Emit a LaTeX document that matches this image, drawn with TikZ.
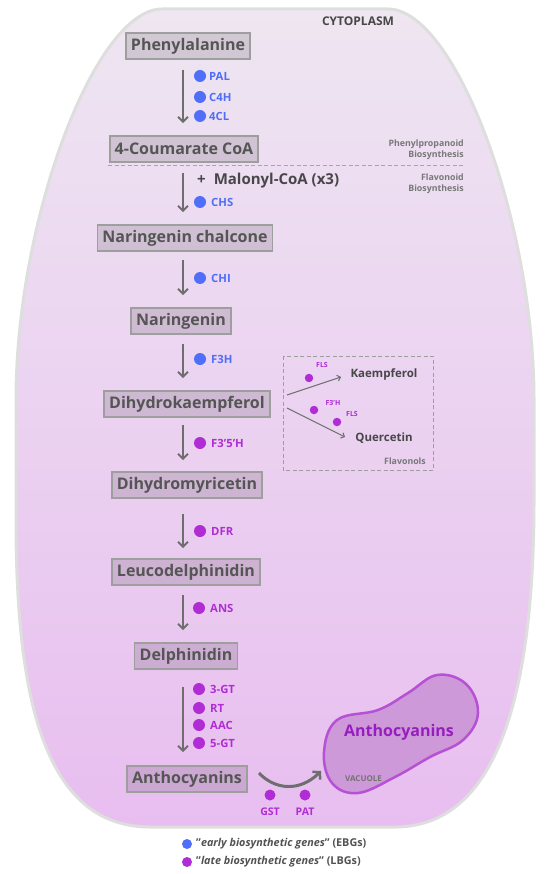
\documentclass[tikz,border=0pt]{standalone}
\usepackage{fontspec}
\setmainfont{Open Sans}
\usetikzlibrary{arrows.meta,calc}
\definecolor{ebg}{RGB}{80,110,247}
\definecolor{lbg}{RGB}{176,45,214}
\definecolor{boxtext}{RGB}{85,85,85}
\definecolor{arrowgrey}{RGB}{110,110,110}
\definecolor{celltop}{RGB}{238,230,241}
\definecolor{cellbot}{RGB}{232,190,240}
\definecolor{cellborder}{RGB}{222,222,222}
\definecolor{vacfill}{RGB}{205,153,217}
\definecolor{vacborder}{RGB}{182,80,212}
\definecolor{vactext}{RGB}{150,30,190}
\definecolor{smallgrey}{RGB}{120,120,120}
\tikzset{
  compound/.style={draw=black!38, line width=1.6pt, fill=black, fill opacity=0.12, text opacity=1,
    text=boxtext, font=\fontsize{16}{18}\selectfont\bfseries, inner xsep=5pt, inner ysep=0pt,
    minimum height=26pt},
  flow/.style={draw=arrowgrey, line width=2pt, -{Straight Barb[length=5pt,width=10pt,line width=2pt]}},
  gdot/.style={circle, inner sep=0pt, minimum size=12pt},
  glab/.style={anchor=west, font=\fontsize{11.3}{13}\selectfont\bfseries, inner sep=0pt},
  sdot/.style={circle, inner sep=0pt, minimum size=8.5pt, fill=lbg},
  slab/.style={font=\fontsize{7}{8}\selectfont\bfseries, text=lbg, inner sep=0pt},
  tiny/.style={font=\fontsize{8.8}{11}\selectfont\bfseries, text=smallgrey, align=right, inner sep=0pt},
  thin arrow/.style={draw=arrowgrey, line width=1pt, -{Straight Barb[length=3pt,width=6pt,line width=1pt]}}
}
\begin{document}
\begin{tikzpicture}[x=1pt,y=-1pt]
\useasboundingbox (0,0) rectangle (550,874);
% cell
\shade[top color=celltop, bottom color=cellbot, draw=cellborder, line width=3pt]
  (162,9) -- (388,9) .. controls (455,9) and (534,220) .. (534,400) -- (534,500)
  .. controls (534,700) and (495,827) .. (395,827) -- (150,827)
  .. controls (45,827) and (16,700) .. (16,520) -- (16,400)
  .. controls (16,220) and (95,9) .. (162,9) -- cycle;
\node[font=\fontsize{12}{14}\selectfont\bfseries, text=black!72, inner sep=0pt] (cyto) at (358,21) {CYTOPLASM};

% compounds
\coordinate (col) at (183,0);
\node[compound] (phe) at (188,46) {Phenylalanine};
\node[compound] (cou) at (184,149) {4-Coumarate CoA};
\node[compound] (nch) at (185,238) {Naringenin chalcone};
\node[compound] (nar) at (181,321) {Naringenin};
\node[compound] (dhk) at (187,404) {Dihydrokaempferol};
\node[compound] (dhm) at (187,485) {Dihydromyricetin};
\node[compound] (leu) at (186,572) {Leucodelphinidin};
\node[compound] (del) at (186,656) {Delphinidin};
\node[compound] (ant) at (187,779) {Anthocyanins};

% main arrows
\draw[flow, shorten <=10pt, shorten >=12pt] (phe.south -| col) -- (cou.north -| col);
\draw[flow, shorten <=10pt, shorten >=12pt] (cou.south -| col) -- (nch.north -| col);
\draw[flow, shorten <=8pt, shorten >=12pt] (nch.south -| col) -- (nar.north -| col);
\draw[flow, shorten <=9pt, shorten >=12pt] (nar.south -| col) -- (dhk.north -| col);
\draw[flow, shorten <=7pt, shorten >=11pt] (dhk.south -| col) -- (dhm.north -| col);
\draw[flow, shorten <=15pt, shorten >=10pt] (dhm.south -| col) -- (leu.north -| col);
\draw[flow, shorten <=9pt, shorten >=12pt] (leu.south -| col) -- (del.north -| col);
\draw[flow, shorten <=17pt, shorten >=13pt] (del.south -| col) -- (ant.north -| col);

% genes
\node[gdot, fill=ebg] (dpal) at (200,76) {};  \node[glab, text=ebg] (lpal) at (209,76) {PAL};
\node[gdot, fill=ebg] (dc4h) at (200,97) {};  \node[glab, text=ebg] (lc4h) at (209,97) {C4H};
\node[gdot, fill=ebg] (d4cl) at (200,116) {}; \node[glab, text=ebg] (l4cl) at (209,116) {4CL};
\node[anchor=west, inner sep=0pt, text=black!72, font=\fontsize{15}{17}\selectfont\bfseries] (mal) at (197,181) {+\hspace{8pt}Malonyl-CoA (x3)};
\node[gdot, fill=ebg] (dchs) at (200,202) {}; \node[glab, text=ebg] (lchs) at (211,202) {CHS};
\node[gdot, fill=ebg] (dchi) at (200,278) {}; \node[glab, text=ebg] (lchi) at (211,278) {CHI};
\node[gdot, fill=ebg] (df3h) at (200,359) {}; \node[glab, text=ebg] (lf3h) at (211,359) {F3H};
\node[gdot, fill=lbg] (df35) at (200,443) {}; \node[glab, text=lbg] (lf35) at (211,443) {F3'5'H};
\node[gdot, fill=lbg] (ddfr) at (200,531) {}; \node[glab, text=lbg] (ldfr) at (211,531) {DFR};
\node[gdot, fill=lbg] (dans) at (199,608) {}; \node[glab, text=lbg] (lans) at (210,608) {ANS};
\node[gdot, fill=lbg] (d3gt) at (199,689) {}; \node[glab, text=lbg] (l3gt) at (210,689) {3-GT};
\node[gdot, fill=lbg] (drt) at (199,708) {};  \node[glab, text=lbg] (lrt) at (210,708) {RT};
\node[gdot, fill=lbg] (daac) at (199,725) {}; \node[glab, text=lbg] (laac) at (210,725) {AAC};
\node[gdot, fill=lbg] (d5gt) at (199,743) {}; \node[glab, text=lbg] (l5gt) at (210,743) {5-GT};

% separator and section labels
\coordinate (sepl) at (108,165);
\coordinate (sepr) at (465,165);
\draw[draw=black!35, line width=0.8pt, dash pattern=on 4pt off 2.5pt] (sepl) -- (sepr);
\node[tiny, anchor=east] (ppb) at (464,149.5) {Phenylpropanoid\\Biosynthesis};
\node[tiny, anchor=east] (flb) at (464,183.5) {Flavonoid\\Biosynthesis};

% flavonols box
\draw[draw=black!38, line width=1pt, dash pattern=on 4pt off 2.5pt] (283,356) rectangle (433,470);
\node[tiny, anchor=east] (flv) at (426,461) {Flavonols};
\node[font=\fontsize{11.5}{13}\selectfont\bfseries, text=black!72, inner sep=0pt] (kae) at (384,374) {Kaempferol};
\node[font=\fontsize{11.5}{13}\selectfont\bfseries, text=black!72, inner sep=0pt] (que) at (384,438) {Quercetin};
\coordinate (fa1) at (287,395);
\coordinate (fa1e) at (341,377);
\coordinate (fa2) at (287,408);
\coordinate (fa2e) at (345,437);
\draw[thin arrow] (fa1) -- (fa1e);
\draw[thin arrow] (fa2) -- (fa2e);
\node[sdot] (dfls1) at (309,378) {}; \node[slab] (lfls1) at (322,365) {FLS};
\node[sdot] (df3p) at (314,410) {};  \node[slab] (lf3p) at (333,403) {F3'H};
\node[sdot] (dfls2) at (337,422) {}; \node[slab] (lfls2) at (352,414) {FLS};

% vacuole
\draw[fill=vacfill, draw=vacborder, line width=2.5pt]
  plot[smooth cycle, tension=0.65] coordinates {(337,720) (378,710) (408,693) (437,675) (466,684) (478,713) (463,740) (430,757) (395,777) (358,793) (332,783) (324,752)};
\node[font=\fontsize{16}{18}\selectfont\bfseries, text=vactext, inner sep=0pt] (vant) at (399,732) {Anthocyanins};
\node[font=\fontsize{8}{9}\selectfont\bfseries, text=black!55, anchor=west, inner sep=0pt] (vac) at (345,779) {VACUOLE};

% transport arrow
\coordinate (tr1) at (259,773);
\coordinate (tr2) at (321,771);
\draw[draw=arrowgrey, line width=3pt, -{Straight Barb[length=5pt,width=11pt,line width=2.5pt]}]
  (tr1) .. controls (275,790) and (300,792) .. (tr2);
\node[gdot, fill=lbg, minimum size=11pt] (dgst) at (270,795) {};
\node[gdot, fill=lbg, minimum size=11pt] (dpat) at (305,795) {};
\node[font=\fontsize{10.5}{12}\selectfont\bfseries, text=lbg, inner sep=0pt] (lgst) at (270,812) {GST};
\node[font=\fontsize{10.5}{12}\selectfont\bfseries, text=lbg, inner sep=0pt] (lpat) at (305,812) {PAT};

% legend
\node[gdot, fill=ebg, minimum size=10pt] (leg1) at (187,844) {};
\node[anchor=west, inner sep=0pt, text=black!68, font=\fontsize{10.8}{12}\selectfont\bfseries] (legt1) at (196,844) {"\textit{early biosynthetic genes}" (EBGs)};
\node[gdot, fill=lbg, minimum size=10pt] (leg2) at (187,862) {};
\node[anchor=west, inner sep=0pt, text=black!68, font=\fontsize{10.8}{12}\selectfont\bfseries] (legt2) at (196,862) {"\textit{late biosynthetic genes}" (LBGs)};
\end{tikzpicture}
\end{document}
